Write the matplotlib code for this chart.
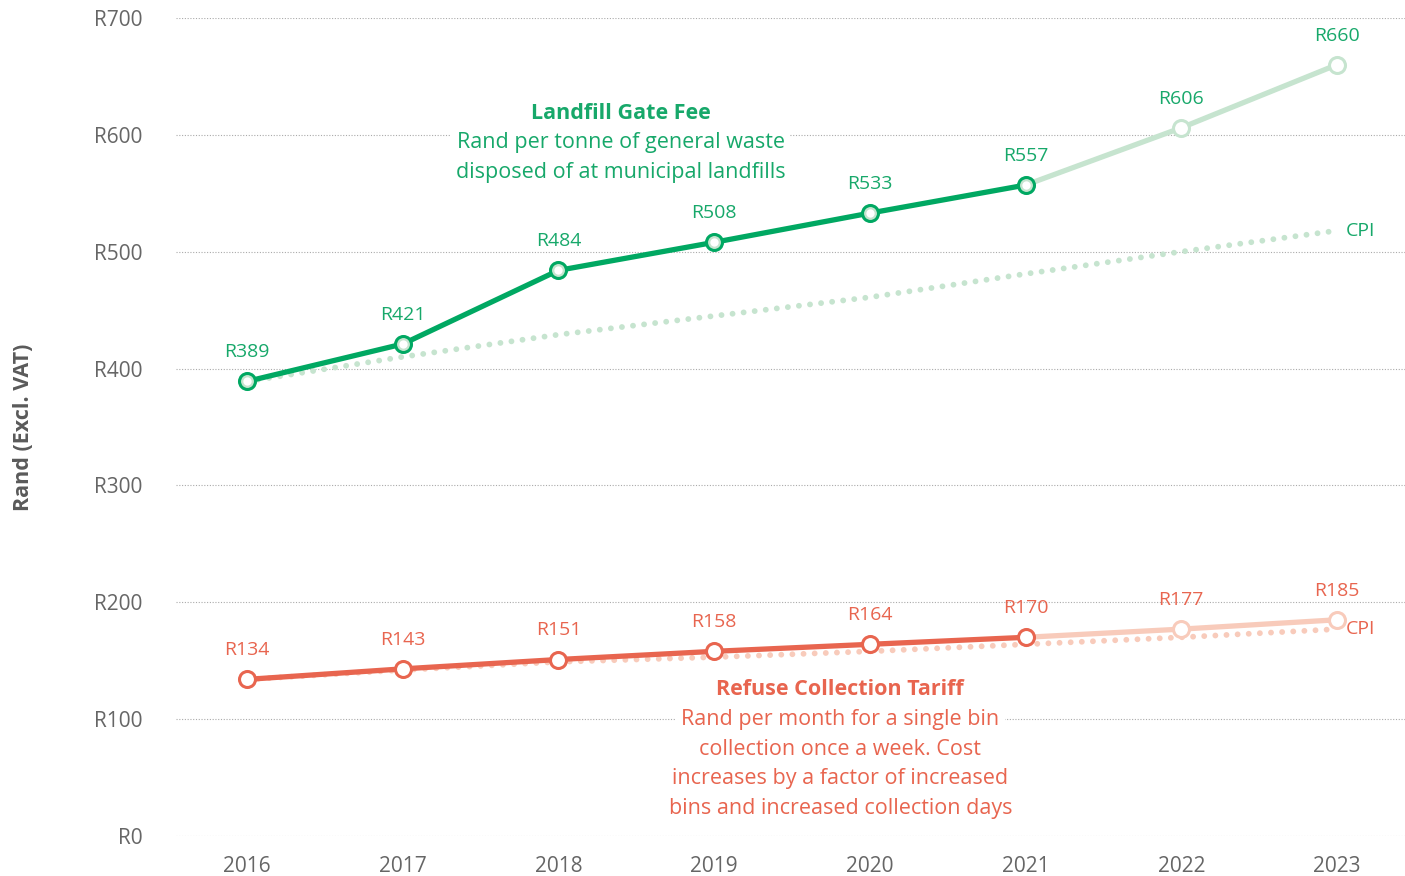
import numpy as np
import matplotlib.pyplot as plt

plt.rcParams['font.family'] = ['Open Sans', 'DejaVu Sans']

years = [2016, 2017, 2018, 2019, 2020, 2021, 2022, 2023]
gate_fee = [389, 421, 484, 508, 533, 557, 606, 660]
gate_cpi = [389, 410, 429, 445, 461, 481, 500, 518]
refuse_tariff = [134, 143, 151, 158, 164, 170, 177, 185]
refuse_cpi = [134, 142, 149, 153, 158, 164, 170, 177]
n_actual = 6  # 2016-2021 actual, 2022-2023 projected

gate_title = 'Landfill Gate Fee'
gate_desc = ['Rand per tonne of general waste', 'disposed of at municipal landfills']
refuse_title = 'Refuse Collection Tariff'
refuse_desc = ['Rand per month for a single bin', 'collection once a week. Cost',
               'increases by a factor of increased', 'bins and increased collection days']

GREEN = '#00a862'
GREEN_LIGHT = '#c6e4cf'
GREEN_TEXT = '#17a86a'
ORANGE = '#e8654f'
ORANGE_LIGHT = '#f8cbbb'
GREY = '#666666'

fig = plt.figure(figsize=(14.05, 8.76), dpi=100)
ax = fig.add_axes([0.1253, 0.0457, 0.8747, 0.9338])

x = np.array(years)


def draw_series(vals, cpi, dark, light, text_col, inner):
    # CPI reference as a round-dotted line
    ax.plot(x, cpi, color=light, lw=4.2, linestyle=(0, (0.01, 1.9)),
            dash_capstyle='round', zorder=2)
    # projected part
    ax.plot(x[n_actual - 1:], vals[n_actual - 1:], color=light, lw=3.8,
            solid_capstyle='round', zorder=3)
    ax.plot(x[n_actual:], vals[n_actual:], 'o', ms=11.5, mfc='white',
            mec=light, mew=2.2, zorder=4)
    # actual part
    ax.plot(x[:n_actual], vals[:n_actual], color=dark, lw=3.8,
            solid_capstyle='round', zorder=5)
    ax.plot(x[:n_actual], vals[:n_actual], 'o', ms=11.5, mfc=inner,
            mec=dark, mew=2.2, zorder=6)
    if inner != 'white':
        ax.plot(x[:n_actual], vals[:n_actual], 'o', ms=6, mfc='white',
                mec='none', zorder=7)
    for xi, v in zip(x, vals):
        ax.annotate(f'R{v}', (xi, v), xytext=(0, 21), textcoords='offset points',
                    ha='center', va='center', fontsize=14, color=text_col,
                    zorder=8)
    ax.annotate('CPI', (x[-1], cpi[-1]), xytext=(6, 0), textcoords='offset points',
                ha='left', va='center', fontsize=14, color=text_col)


def draw_note(xc, y_title, title, lines, col):
    step = 25.3  # one text line in data units
    ax.text(xc, y_title, title, ha='center', va='center', fontsize=15.5,
            fontweight='bold', color=col, zorder=10,
            bbox=dict(boxstyle='square,pad=0.25', fc='white', ec='none'))
    for i, line in enumerate(lines):
        ax.text(xc, y_title - step * (i + 1), line, ha='center', va='center',
                fontsize=15.5, color=col, zorder=10,
                bbox=dict(boxstyle='square,pad=0.25', fc='white', ec='none'))


draw_series(gate_fee, gate_cpi, GREEN, GREEN_LIGHT, GREEN_TEXT, GREEN_LIGHT)
draw_series(refuse_tariff, refuse_cpi, ORANGE, ORANGE_LIGHT, ORANGE, 'white')

draw_note(2018.40, 618.5, gate_title, gate_desc, GREEN_TEXT)
draw_note(2019.81, 125, refuse_title, refuse_desc, ORANGE)

ax.set_xlim(2015.544, 2023.437)
ax.set_ylim(0, 700)
ax.set_xticks(years)
ax.set_yticks(np.arange(0, 701, 100))
ax.set_yticklabels([f'R{v}' for v in range(0, 701, 100)])
ax.tick_params(axis='both', length=0, labelsize=15, labelcolor=GREY)
ax.tick_params(axis='y', pad=24)
ax.tick_params(axis='x', pad=14.5)
ax.grid(axis='y', color='#aaaaaa', lw=0.8, linestyle=(0, (1, 1.5)), zorder=0)
for s in ax.spines.values():
    s.set_visible(False)

fig.text(0.017, 0.512, 'Rand (Excl. VAT)', rotation=90, ha='center', va='center',
         fontsize=15.5, fontweight='bold', color='#5a5a5a')

fig.savefig('out.png', dpi=100)
